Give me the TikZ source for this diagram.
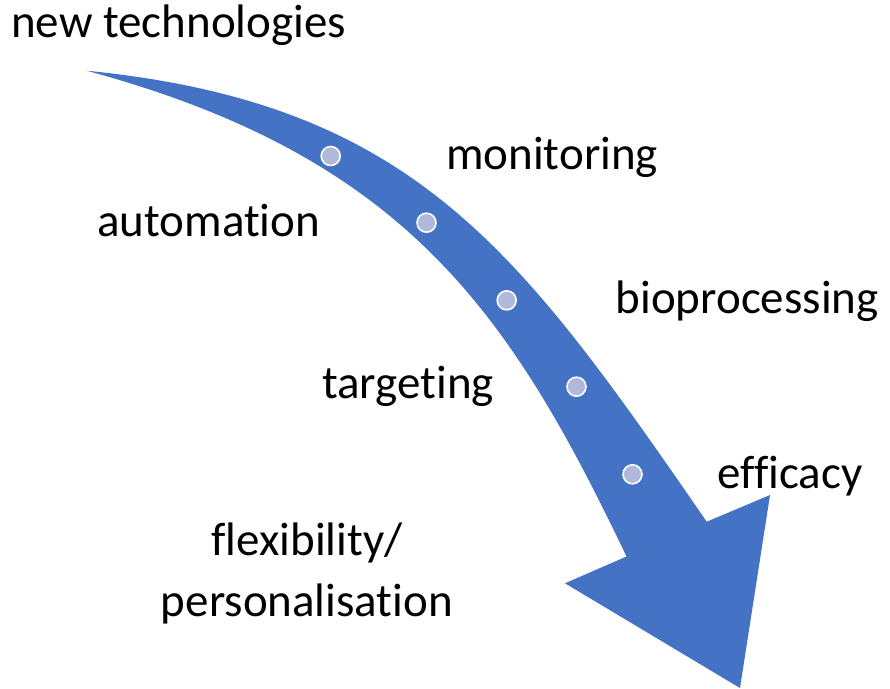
\documentclass[tikz,border=0pt]{standalone}
\usepackage{fontspec}
\setmainfont{Carlito}[Ligatures=NoCommon]
\definecolor{arrowblue}{RGB}{68,114,196}
\definecolor{dotfill}{RGB}{176,185,219}
\begin{document}
\begin{tikzpicture}[x=1pt,y=-1pt,
  lbl/.style={inner sep=0pt, font=\fontsize{47}{62}\selectfont, text=black},
  waydot/.style={circle, fill=dotfill, draw=white, line width=1.6pt, minimum size=19pt, inner sep=0pt}]
\useasboundingbox (0,0) rectangle (890,688);
% arrow shape corners
\coordinate (tail) at (86.7,70.7);
\coordinate (rin) at (706.7,521.7);
\coordinate (rbarb) at (770,495);
\coordinate (tip) at (740,688);
\coordinate (lbarb) at (565,583.3);
\coordinate (lin) at (626.5,556.5);
% arrow body
\fill[arrowblue] (tail) .. controls (415,103.5) and (519.3,250.1) .. (rin)
  -- (rbarb) -- (tip) -- (lbarb) -- (lin)
  .. controls (509.9,312.2) and (405,156.8) .. (tail) -- cycle;
% dots
\node[waydot] (d1) at (330.7,156) {};
\node[waydot] (d2) at (426.5,222.7) {};
\node[waydot] (d3) at (506.7,300.3) {};
\node[waydot] (d4) at (576.5,386.7) {};
\node[waydot] (d5) at (632.5,474.3) {};
% labels
\node[lbl, anchor=base west] (newtech) at (11,37.5) {new technologies};
\node[lbl, anchor=base west] (automation) at (97,236) {automation};
\node[lbl, anchor=base west] (monitoring) at (446,169) {monitoring};
\node[lbl, anchor=base west] (bioproc) at (615.5,313) {bioprocessing};
\node[lbl, anchor=base west] (targeting) at (322,398) {targeting};
\node[lbl, anchor=base west] (efficacy) at (717,488) {efficacy};
\node[lbl, anchor=base] (flex1) at (307,555) {flexibility/};
\node[lbl, anchor=base] (flex2) at (307,616.7) {personalisation};
\end{tikzpicture}
\end{document}
